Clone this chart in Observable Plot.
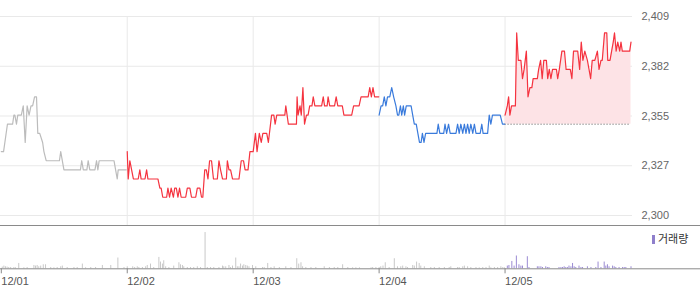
<!DOCTYPE html>
<html><head><meta charset="utf-8">
<script src="https://cdn.jsdelivr.net/npm/d3@7"></script>
<script src="https://cdn.jsdelivr.net/npm/@observablehq/plot@0.6"></script>
<style>
body{margin:0;background:#fff;}
#wrap{position:relative;width:700px;height:289px;overflow:hidden;font-family:'Liberation Sans',Arial,sans-serif;}
#price{position:absolute;left:0;top:0;}
#sep{position:absolute;left:0;top:225px;width:700px;height:1px;background:#8a8a8a;}
#vol{position:absolute;left:0;top:226px;}
#legend{position:absolute;left:652px;top:232px;font-size:11px;color:#333;font-family:'Noto Sans CJK KR',sans-serif;line-height:12px;white-space:nowrap;}
#legend i{display:inline-block;width:3px;height:9px;background:#8f7fcb;margin-right:3px;vertical-align:-1px}
svg{display:block}
</style></head><body>
<div id="wrap"><div id="price"></div><div id="sep"></div><div id="vol"></div><div id="legend"><i></i>거래량</div></div>
<script>
const dates = ["12/01","12/02","12/03","12/04","12/05"];
const yTickValues = [2300, 2327.25, 2354.5, 2381.75, 2409];
const yTickLabels = ["2,300","2,327","2,355","2,382","2,409"];
const sessionMinutes = 390;

// [minute after open, price]
const day1Price = [[0,2335],[7,2335],[19,2350],[35,2350],[39,2355],[42,2355],[47,2350],[51,2355],[62,2355],[68,2360],[74,2340],[80,2360],[86,2355],[92,2360],[97,2360],[103,2365],[109,2365],[113,2345],[119,2345],[128,2340],[132,2335],[139,2330],[180,2330],[184,2335],[194,2325],[245,2325],[249,2330],[254,2325],[265,2325],[269,2330],[274,2325],[290,2325],[295,2330],[299,2325],[303,2330],[349,2330],[354,2325],[359,2320],[362,2325],[387,2325]];
const day2Price = [[0,2335],[3,2320],[8,2330],[19,2320],[34,2320],[39,2325],[43,2320],[55,2320],[60,2325],[64,2320],[95,2320],[101,2315],[105,2315],[110,2310],[122,2310],[126,2315],[131,2310],[136,2315],[143,2310],[147,2315],[152,2315],[157,2310],[162,2315],[167,2310],[181,2310],[186,2315],[194,2315],[199,2310],[212,2310],[217,2315],[225,2315],[230,2310],[234,2310],[240,2325],[245,2325],[250,2320],[255,2330],[261,2330],[267,2320],[279,2320],[284,2330],[289,2325],[295,2320],[307,2320],[310,2330],[315,2325],[320,2325],[326,2320],[346,2320],[353,2330],[360,2330],[365,2325],[374,2325],[380,2335],[388,2335]];
const day3Price = [[0,2335],[7,2345],[12,2335],[19,2345],[25,2340],[30,2345],[42,2345],[47,2340],[57,2355],[64,2355],[68,2350],[73,2355],[98,2355],[101,2360],[109,2350],[134,2350],[136,2365],[139,2355],[145,2360],[149,2355],[154,2370],[159,2350],[165,2355],[170,2355],[175,2360],[182,2360],[186,2365],[191,2360],[212,2360],[217,2365],[221,2360],[229,2360],[232,2365],[237,2360],[252,2360],[257,2365],[262,2360],[276,2360],[281,2355],[305,2355],[311,2360],[328,2360],[334,2365],[356,2365],[361,2370],[366,2365],[371,2370],[376,2365],[389,2365]];
const day4Price = [[0,2355],[6,2360],[11,2360],[16,2365],[21,2360],[26,2365],[33,2365],[39,2370],[45,2365],[52,2360],[57,2355],[61,2355],[66,2360],[70,2355],[75,2360],[79,2355],[84,2360],[99,2360],[104,2355],[109,2350],[115,2350],[120,2345],[125,2340],[130,2340],[134,2345],[139,2340],[144,2345],[179,2345],[183,2350],[188,2345],[200,2345],[204,2350],[209,2345],[215,2350],[220,2345],[238,2345],[243,2350],[248,2345],[253,2350],[259,2345],[264,2350],[269,2345],[274,2350],[279,2345],[284,2350],[290,2345],[295,2350],[300,2345],[313,2345],[318,2350],[322,2345],[336,2345],[341,2355],[346,2350],[351,2355],[375,2355],[382,2350],[389,2350]];
const day5Price = [[0,2355],[7,2360],[11,2365],[15,2355],[20,2360],[32,2360],[36,2400],[41,2385],[49,2385],[54,2375],[59,2380],[66,2390],[71,2365],[77,2370],[83,2370],[87,2375],[100,2375],[104,2380],[110,2385],[115,2375],[120,2385],[128,2385],[132,2375],[137,2380],[142,2375],[147,2380],[159,2380],[163,2375],[168,2380],[176,2390],[184,2390],[189,2380],[202,2380],[207,2375],[212,2390],[225,2390],[231,2380],[236,2395],[241,2385],[247,2390],[255,2385],[260,2380],[265,2375],[270,2385],[278,2385],[286,2390],[291,2380],[297,2385],[301,2385],[308,2400],[315,2400],[318,2385],[325,2385],[330,2390],[335,2395],[339,2400],[344,2390],[349,2395],[355,2390],[359,2395],[363,2390],[386,2390],[390,2395]];

// [minute after open, volume]
const day1Vol = [[3,1700],[8,2700],[13,2000],[18,1700],[23,1300],[29,1300],[39,1300],[44,1000],[54,5300],[70,1000],[80,1300],[101,3300],[106,2700],[111,3300],[116,2000],[122,2700],[130,4000],[137,4000],[153,1300],[163,1000],[173,1300],[184,2000],[189,2700],[204,1300],[225,1300],[235,1300],[251,4700],[261,1000],[277,1300],[292,1300],[313,3300],[339,3300],[361,10700],[380,1300]];
const day2Vol = [[0,2000],[17,2000],[23,1300],[31,2000],[36,1300],[47,1300],[57,2000],[62,3300],[72,4700],[82,1300],[98,11300],[103,6700],[109,4700],[113,8000],[119,2000],[129,1300],[144,2700],[160,6000],[165,4000],[171,3300],[175,2000],[186,1300],[196,1300],[206,1300],[217,2000],[227,1300],[241,36000],[248,1300],[258,1300],[268,1300],[284,1300],[295,2700],[299,2000],[305,2000],[315,3300],[320,1300],[326,2700],[336,10700],[341,2000],[346,2000],[351,4700],[357,2700],[361,4000],[367,3300],[372,2700],[377,2000],[388,3300]];
const day3Vol = [[8,2000],[29,1300],[34,1300],[45,5300],[55,1300],[65,2000],[81,1300],[101,2000],[117,1300],[135,10000],[141,4700],[148,6000],[153,2000],[163,1300],[179,1300],[194,1300],[220,2000],[236,1300],[251,1300],[262,1300],[277,4000],[293,1300],[308,1000],[318,1000],[329,1000],[365,1000],[370,1300],[380,1300]];
const day4Vol = [[0,1300],[5,2000],[12,2700],[19,6000],[31,1300],[47,10000],[57,2000],[67,2000],[73,2700],[83,2000],[88,1300],[104,3300],[109,2700],[116,6700],[124,5300],[129,2700],[140,2000],[160,1300],[171,1300],[186,1300],[202,1300],[217,1300],[222,2000],[243,1300],[248,1300],[259,2000],[264,2700],[274,2000],[284,1300],[300,1300],[310,1000],[321,1300],[331,1300],[341,2700],[346,1000],[357,1300],[367,1300],[377,2000],[383,1300],[388,1000]];
const day5Vol = [[7,2700],[12,3300],[21,7300],[28,2700],[35,12700],[43,4000],[49,2700],[54,2700],[69,12000],[74,1300],[100,2000],[105,2000],[111,2000],[116,1300],[126,2000],[131,1300],[136,1300],[167,1300],[173,1300],[178,1300],[183,2000],[188,1300],[193,1300],[198,2700],[204,2000],[209,5300],[214,2000],[219,1300],[229,2700],[235,1300],[240,1300],[255,2000],[266,1300],[281,1300],[288,6700],[297,1300],[307,6700],[312,2700],[317,4000],[322,2000],[333,2700],[338,2000],[343,1300],[353,1300],[364,1300],[369,1300],[374,1300],[390,2000]];

const priceDays = [day1Price, day2Price, day3Price, day4Price, day5Price];
const volDays = [day1Vol, day2Vol, day3Vol, day4Vol, day5Vol];

const RED = "#f5333f", BLUE = "#3a7bdc", GRAY = "#bcbcbc";
const closes = priceDays.map(d => d[d.length - 1][1]);
const dayColor = (i) => i === 0 ? GRAY : (closes[i] >= closes[i - 1] ? RED : BLUE);

const priceRows = priceDays.map((d, i) => d.map(([m, p]) => ({t: i * sessionMinutes + m, p, day: i})));
const volRows = volDays.map((d, i) => d.map(([m, v]) => ({t: i * sessionMinutes + m, v, day: i})));
const last = priceDays.length - 1;
const prevClose = closes[last - 1];
const dayStarts = dates.map((_, i) => i * sessionMinutes);

const X = {domain: [0, dates.length * sessionMinutes], range: [0.8, 630.5]};
const font = {fontFamily: "'Liberation Sans', Arial, sans-serif", fontSize: "11px", background: "transparent"};

const pricePlot = Plot.plot({
  width: 700, height: 225, marginTop: 16, marginBottom: 0, marginLeft: 0, marginRight: 68,
  style: font,
  x: {...X, axis: null},
  y: {domain: [2300, 2409], range: [215, 16], axis: null},
  marks: [
    Plot.ruleY(yTickValues, {stroke: "#e9e9e9"}),
    Plot.ruleX(dayStarts.slice(1), {stroke: "#e9e9e9"}),
    Plot.areaY(priceRows[last], {x: "t", y1: prevClose, y2: "p", fill: "#fde3e6"}),
    Plot.ruleY([prevClose], {x1: dayStarts[last], x2: dates.length * sessionMinutes, stroke: "#555", strokeDasharray: "1,2"}),
    ...priceRows.map((rows, i) => Plot.line(rows, {x: "t", y: "p", stroke: dayColor(i), strokeWidth: 1.2})),
    Plot.axisY(yTickValues, {anchor: "right", label: null, tickSize: 0, tickPadding: 9, fill: "#666", fontSize: 11,
      tickFormat: d => yTickLabels[yTickValues.indexOf(d)]})
  ]
});
document.getElementById("price").append(pricePlot);

const volPlot = Plot.plot({
  width: 700, height: 63, marginTop: 0, marginBottom: 20.7, marginLeft: 0, marginRight: 0,
  style: font,
  x: {...X},
  y: {domain: [0, 42000], axis: null},
  marks: [
    ...volRows.map((rows, i) => Plot.ruleX(rows, {x: "t", y1: 0, y2: "v", stroke: i === last ? "#9b8bd3" : "#c9c9c9", strokeWidth: 1})),
    Plot.ruleY([0], {stroke: "#8a8a8a"}),
    Plot.axisX(dayStarts, {label: null, tickSize: 5, tickPadding: 3, stroke: "#8a8a8a", fill: "#555", fontSize: 11,
      textAnchor: "start", tickFormat: d => dates[d / sessionMinutes]})
  ]
});
document.getElementById("vol").append(volPlot);
</script>
</body></html>
